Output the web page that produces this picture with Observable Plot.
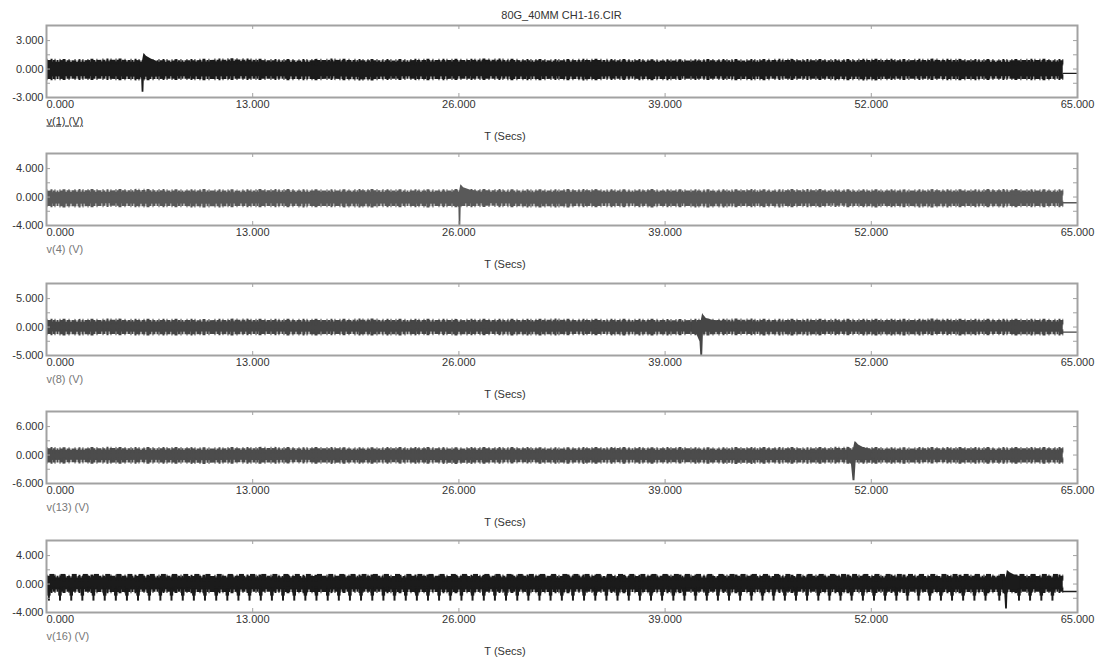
<!DOCTYPE html>
<html><head><meta charset="utf-8">
<script src="https://cdn.jsdelivr.net/npm/d3@7"></script>
<script src="https://cdn.jsdelivr.net/npm/@observablehq/plot@0.6"></script>
<style>
body{margin:0;background:#fff;font-family:"Liberation Sans",Arial,sans-serif;}
#wrap{position:relative;width:1095px;height:661px;overflow:hidden;}
#title{position:absolute;left:46px;width:1031px;top:9px;line-height:13px;text-align:center;font-size:11px;color:#333;}
.panel{position:absolute;left:0;}
</style></head><body><div id="wrap"><div id="title"></div></div>
<script>
// ---- data ----
const title = "80G_40MM CH1-16.CIR";
const xTicks = [0, 13, 26, 39, 52, 65];
const xLabel = "T (Secs)";
const channels = ["v(1) (V)", "v(4) (V)", "v(8) (V)", "v(13) (V)", "v(16) (V)"];
const yRange = [3, 4, 5, 6, 4];               // labelled ± tick of each panel
const seriesColor = ["#1b1b1b", "#595959", "#464646", "#4c4c4c", "#1b1b1b"];

// envelope sample times (s)
const T = [0,2,4,6,8,10,12,14,16,18,20,22,24,26,28,30,32,34,36,38,40,42,44,46,48,50,52,54,56,58,60,62,64.1];

// core band envelopes (V)
const hi1 = [0.75,0.70,0.78,0.72,0.70,0.74,0.80,0.72,0.70,0.76,0.72,0.70,0.75,0.73,0.78,0.72,0.70,0.75,0.72,0.70,0.68,0.72,0.70,0.74,0.72,0.70,0.75,0.72,0.76,0.72,0.70,0.74,0.72];
const lo1 = [-0.85,-0.80,-0.82,-0.86,-0.80,-0.84,-0.82,-0.80,-0.85,-0.82,-0.88,-0.80,-0.84,-0.82,-0.80,-0.85,-0.82,-0.86,-0.80,-0.84,-0.82,-0.80,-0.85,-0.82,-0.80,-0.84,-0.86,-0.80,-0.82,-0.85,-0.80,-0.84,-0.82];
const hi2 = [0.62,0.68,0.65,0.70,0.64,0.66,0.62,0.68,0.65,0.63,0.67,0.65,0.64,0.66,0.68,0.62,0.65,0.67,0.63,0.66,0.64,0.62,0.66,0.65,0.68,0.63,0.65,0.62,0.66,0.64,0.67,0.65,0.63];
const lo2 = [-0.98,-1.02,-0.95,-1.00,-0.97,-1.03,-0.98,-0.96,-1.00,-0.98,-1.02,-0.97,-1.00,-0.98,-0.95,-1.00,-1.02,-0.98,-0.96,-1.00,-0.98,-1.03,-0.97,-1.00,-0.98,-0.95,-1.00,-0.98,-1.02,-0.97,-1.00,-0.98,-0.96];
const hi3 = [0.90,0.86,0.92,0.88,0.90,0.85,0.92,0.88,0.90,0.87,0.93,0.88,0.90,0.86,0.90,0.88,0.92,0.87,0.90,0.88,0.85,0.90,0.92,0.88,0.90,0.86,0.90,0.88,0.92,0.87,0.90,0.88,0.90];
const lo3 = [-0.88,-0.92,-0.87,-0.90,-0.93,-0.88,-0.90,-0.86,-0.92,-0.88,-0.90,-0.93,-0.87,-0.90,-0.88,-0.92,-0.90,-0.86,-0.90,-0.93,-0.88,-0.90,-0.87,-0.92,-0.90,-0.88,-0.90,-0.93,-0.88,-0.90,-0.87,-0.92,-0.90];
const hi4 = [1.00,0.95,1.05,0.98,1.02,0.96,1.00,1.05,0.98,1.00,0.95,1.02,1.00,0.97,1.03,1.00,0.96,1.00,1.04,0.98,1.00,0.95,1.02,1.00,0.98,1.05,1.00,0.96,1.02,1.00,0.98,1.03,1.00];
const lo4 = [-1.15,-1.10,-1.18,-1.12,-1.15,-1.20,-1.12,-1.15,-1.10,-1.18,-1.15,-1.12,-1.15,-1.20,-1.14,-1.10,-1.15,-1.18,-1.12,-1.15,-1.10,-1.16,-1.20,-1.14,-1.15,-1.12,-1.18,-1.15,-1.10,-1.15,-1.18,-1.12,-1.15];
const hi5 = [0.88,0.85,0.90,0.86,0.88,0.84,0.90,0.87,0.85,0.88,0.90,0.86,0.88,0.85,0.87,0.90,0.86,0.88,0.84,0.87,0.90,0.86,0.88,0.85,0.87,0.90,0.86,0.88,0.85,0.87,0.89,0.86,0.88];
const lo5 = [-0.82,-0.80,-0.85,-0.82,-0.80,-0.84,-0.82,-0.80,-0.85,-0.82,-0.80,-0.83,-0.82,-0.85,-0.80,-0.82,-0.84,-0.80,-0.82,-0.85,-0.82,-0.80,-0.84,-0.82,-0.80,-0.85,-0.82,-0.80,-0.83,-0.82,-0.85,-0.80,-0.82];

// transient events (spike + ring-down)
const spikeT1 = [5.9,6.0,6.03,6.14,6.17,6.3,6.6,7.0];
const spikeHi1 = [0.72,0.70,0.60,1.6,1.6,1.35,1.05,0.75];
const spikeLo1 = [-0.82,-1.0,-2.45,-2.45,-0.75,-0.75,-0.8,-0.82];
const spikeT2 = [25.9,26.0,26.02,26.12,26.15,26.3,26.7,27.3];
const spikeHi2 = [0.65,0.6,0.5,1.7,1.7,1.3,1.0,0.68];
const spikeLo2 = [-0.98,-1.5,-4.0,-4.0,-0.8,-0.85,-0.9,-0.98];
const spikeT3 = [40.7,41.0,41.2,41.25,41.37,41.42,41.6,42.0,42.8];
const spikeHi3 = [0.9,0.85,0.8,0.7,2.4,2.1,1.5,1.2,0.95];
const spikeLo3 = [-0.9,-1.3,-2.6,-5.0,-5.0,-0.8,-0.8,-0.85,-0.9];
const spikeT4 = [50.5,50.75,50.85,50.97,51.05,51.2,51.5,52.0];
const spikeHi4 = [1.0,0.9,0.8,2.8,2.7,2.1,1.6,1.1];
const spikeLo4 = [-1.15,-2.0,-5.4,-5.4,-1.0,-1.0,-1.1,-1.15];
const spikeT5 = [60.3,60.42,60.47,60.58,60.62,60.75,61.0,61.4];
const spikeHi5 = [0.87,0.6,0.4,1.9,1.85,1.6,1.3,0.95];
const spikeLo5 = [-0.82,-1.5,-3.5,-3.5,-0.8,-0.8,-0.82,-0.82];

// flat tail after the record ends
const tailT = [64.1, 65];
const tailV = [-0.45, -0.8, -0.9, null, -1.05];

// periodic negative dips in v(16)
const dips5 = [0.15,0.85,1.56,2.26,2.96,3.67,4.37,5.07,5.77,6.48,7.18,7.88,8.59,9.29,9.99,10.70,11.40,12.10,12.80,13.51,14.21,14.91,15.62,16.32,17.02,17.73,18.43,19.13,19.83,20.54,21.24,21.94,22.65,23.35,24.05,24.75,25.46,26.16,26.86,27.57,28.27,28.97,29.68,30.38,31.08,31.78,32.49,33.19,33.89,34.60,35.30,36.00,36.71,37.41,38.11,38.81,39.52,40.22,40.92,41.63,42.33,43.03,43.73,44.44,45.14,45.84,46.55,47.25,47.95,48.66,49.36,50.06,50.76,51.47,52.17,52.87,53.58,54.28,54.98,55.69,56.39,57.09,57.79,58.50,59.20,60.07,61.31,62.01,62.72,63.42];
const dipDepth5 = -2.4;
const bumpTop5 = 1.35;

// ---- assembly ----
const his = [hi1, hi2, hi3, hi4, hi5];
const los = [lo1, lo2, lo3, lo4, lo5];
const spikeT = [spikeT1, spikeT2, spikeT3, spikeT4, spikeT5];
const spikeHi = [spikeHi1, spikeHi2, spikeHi3, spikeHi4, spikeHi5];
const spikeLo = [spikeLo1, spikeLo2, spikeLo3, spikeLo4, spikeLo5];
const frameTops = [25, 153, 283, 411, 540];
const fmt = d => d.toFixed(3);
const FRAME = "#a2a2a2";

document.getElementById("title").textContent = title;
const wrap = document.getElementById("wrap");

function fuzz(vals, col) {
  // noisy ragged edge: dashed strokes centred on the band edge
  const common = {x: T, stroke: col, strokeLinecap: "butt", strokeLinejoin: "miter", curve: "linear"};
  return [
    Plot.lineY(vals, {...common, strokeWidth: 4, strokeDasharray: "5 1 3 1 2 1 6 1 4 1"}),
    Plot.lineY(vals, {...common, strokeWidth: 6.5, strokeDasharray: "1 3 2 2 1 4 1 2 3 3 1 5"})
  ];
}

for (let i = 0; i < 5; i++) {
  const a = yRange[i];
  const col = seriesColor[i];
  const yLabels = [-a, 0, a];
  const yTicks = [-a / 2, 0, a / 2, a];
  const marks = [
    Plot.areaY(T, {x: T, y1: los[i], y2: his[i], fill: col}),
    ...fuzz(his[i], col),
    ...fuzz(los[i], col),
    Plot.areaY(spikeT[i], {x: spikeT[i], y1: spikeLo[i], y2: spikeHi[i], fill: col})
  ];
  if (tailV[i] !== null) {
    marks.push(Plot.lineY(tailT.map(() => tailV[i]), {x: tailT, stroke: col, strokeWidth: 1.3}));
  }
  if (i === 4) {
    marks.push(Plot.ruleX(dips5, {x: d => d, y1: -0.7, y2: -1.7, stroke: col, strokeWidth: 3.5}));
    marks.push(Plot.ruleX(dips5, {x: d => d, y1: -0.7, y2: dipDepth5, stroke: col, strokeWidth: 2}));
    marks.push(Plot.ruleX(dips5, {x: d => d, dx: 3, y1: 0.7, y2: bumpTop5, stroke: col, strokeWidth: 5}));
  }
  marks.push(
    Plot.frame({stroke: FRAME, strokeWidth: 2}),
    Plot.ruleX(xTicks.slice(1, -1), {x: d => d, insetBottom: 68, stroke: FRAME}),
    Plot.ruleX(xTicks.slice(1, -1), {x: d => d, insetTop: 68, stroke: FRAME}),
    Plot.ruleY(yTicks, {y: d => d, insetRight: 1027, stroke: FRAME}),
    Plot.ruleY(yTicks, {y: d => d, insetLeft: 1027, stroke: FRAME}),
    Plot.text(yLabels, {y: d => d, frameAnchor: "left", dx: -3, textAnchor: "end", text: fmt, fill: "#333"}),
    Plot.text(xTicks.slice(0, 1), {x: d => d, frameAnchor: "bottom", dy: 10, textAnchor: "start", text: fmt, fill: "#333"}),
    Plot.text(xTicks.slice(1), {x: d => d, frameAnchor: "bottom", dy: 10, text: fmt, fill: "#333"}),
    Plot.text([channels[i]], {frameAnchor: "bottom-left", dy: 27, textAnchor: "start", text: d => d, fill: i === 0 ? "#333" : "#777"}),
    Plot.text([xLabel], {frameAnchor: "bottom", dx: -57, dy: 42, text: d => d, fill: "#333"})
  );
  const svg = Plot.plot({
    width: 1095, height: 128,
    marginLeft: 46, marginRight: 18, marginTop: 4, marginBottom: 52,
    x: {domain: [0, 65], axis: null},
    y: {domain: [-a, 1.53 * a], axis: null},
    style: {fontFamily: "'Liberation Sans', Arial, sans-serif", fontSize: "11px", background: "transparent", overflow: "visible"},
    marks
  });
  svg.classList.add("panel");
  svg.style.top = (frameTops[i] - 4) + "px";
  if (i === 0) {
    svg.querySelectorAll("text").forEach(t => {
      if (t.textContent === channels[0]) t.setAttribute("text-decoration", "underline");
    });
  }
  wrap.appendChild(svg);
}
</script>
</body></html>
